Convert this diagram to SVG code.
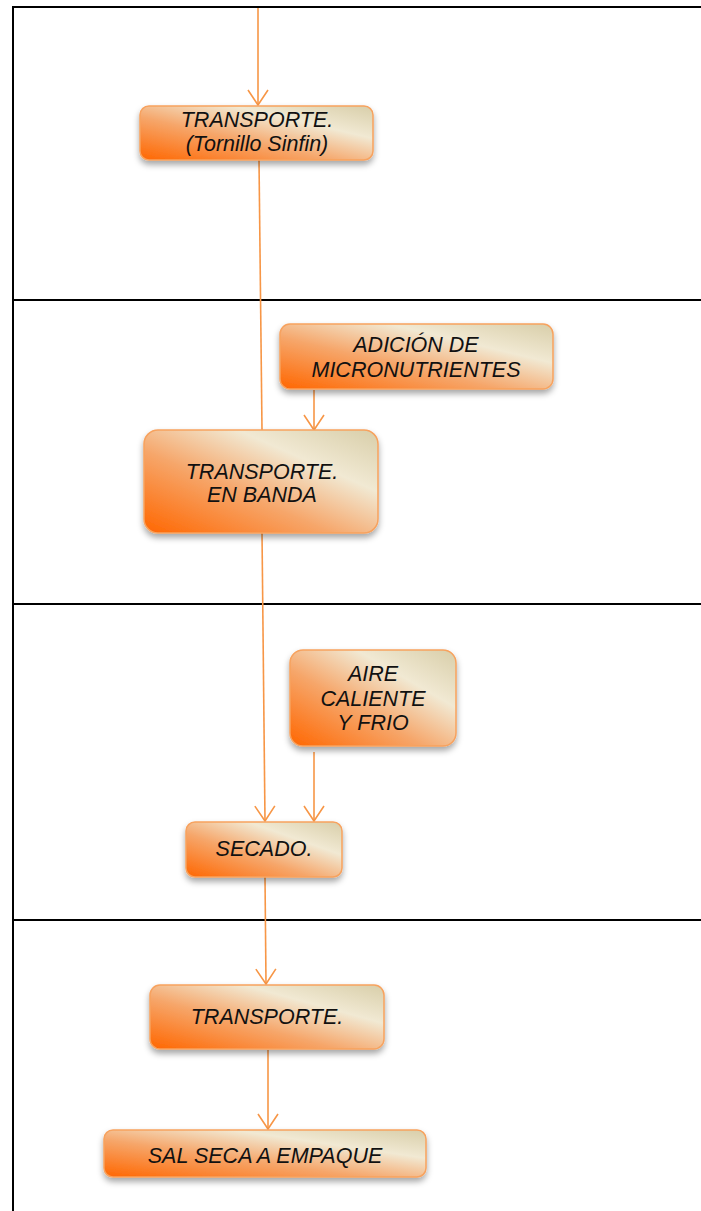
<svg xmlns="http://www.w3.org/2000/svg" width="701" height="1211" viewBox="0 0 701 1211">
  <defs>
    <linearGradient id="boxFill" x1="0" y1="1" x2="1" y2="0">
      <stop offset="0" stop-color="#FF6600"/>
      <stop offset="0.4" stop-color="#F6A66A"/>
      <stop offset="0.7" stop-color="#F1E9D3"/>
      <stop offset="1" stop-color="#D8CEA9"/>
    </linearGradient>
    <filter id="shadow" x="-10%" y="-20%" width="120%" height="150%">
      <feDropShadow dx="0" dy="4" stdDeviation="3" flood-color="#000" flood-opacity="0.35"/>
    </filter>
    <!-- open V arrowhead, drawn pointing along +x -->
    <marker id="vee" markerWidth="18" markerHeight="24" refX="16" refY="12" orient="auto" markerUnits="userSpaceOnUse" viewBox="0 0 18 24">
      <path d="M1,2 L16,12 L1,22" fill="none" stroke="#F79646" stroke-width="1.6"/>
    </marker>
  </defs>
  <style>
    .frame { stroke: #000; stroke-width: 2; fill: none; }
    .box { fill: url(#boxFill); stroke: #F7A25E; stroke-width: 1.5; filter: url(#shadow); }
    .lbl { font-family: "Liberation Sans", Arial, sans-serif; font-style: italic; font-size: 21.5px; fill: #111; text-anchor: middle; }
    .conn { stroke: #F79646; stroke-width: 1.6; fill: none; }
    .arr { marker-end: url(#vee); }
  </style>

  <rect width="701" height="1211" fill="#fff"/>

  <!-- lane frame -->
  <g id="frame">
    <path class="frame" d="M13,1211 V7 H701"/>
    <line class="frame" x1="13" y1="300" x2="701" y2="300"/>
    <line class="frame" x1="13" y1="604" x2="701" y2="604"/>
    <line class="frame" x1="13" y1="920" x2="701" y2="920"/>
  </g>

  <!-- connectors -->
  <g id="connectors">
    <path class="conn arr" d="M258,8 L258,105"/>
    <path class="conn" d="M259,160 L262,430"/>
    <path class="conn arr" d="M314,390 L314,430"/>
    <path class="conn arr" d="M262,533 L265,821"/>
    <path class="conn arr" d="M314,752 L314,821"/>
    <path class="conn arr" d="M265,877 L266,984"/>
    <path class="conn arr" d="M268,1050 L268,1129"/>
  </g>

  <g id="n-tornillo">
    <rect class="box" x="140" y="106" width="233" height="54" rx="9"/>
    <text class="lbl" x="257" y="127">TRANSPORTE.</text>
    <text class="lbl" x="257" y="151">(Tornillo Sinfin)</text>
  </g>

  <g id="n-adicion">
    <rect class="box" x="280" y="324" width="273" height="65" rx="10"/>
    <text class="lbl" x="416" y="352">ADICIÓN DE</text>
    <text class="lbl" x="416" y="377">MICRONUTRIENTES</text>
  </g>

  <g id="n-banda">
    <rect class="box" x="144" y="430" width="234" height="103" rx="14"/>
    <text class="lbl" x="262" y="479">TRANSPORTE.</text>
    <text class="lbl" x="262" y="502">EN BANDA</text>
  </g>

  <g id="n-aire">
    <rect class="box" x="290" y="650" width="166" height="96" rx="13"/>
    <text class="lbl" x="373" y="681">AIRE</text>
    <text class="lbl" x="373" y="706">CALIENTE</text>
    <text class="lbl" x="373" y="730">Y FRIO</text>
  </g>

  <g id="n-secado">
    <rect class="box" x="186" y="822" width="156" height="55" rx="9"/>
    <text class="lbl" x="264" y="856">SECADO.</text>
  </g>

  <g id="n-transporte">
    <rect class="box" x="150" y="985" width="234" height="64" rx="10"/>
    <text class="lbl" x="267" y="1024">TRANSPORTE.</text>
  </g>

  <g id="n-empaque">
    <rect class="box" x="104" y="1130" width="322" height="47" rx="9"/>
    <text class="lbl" x="265" y="1163">SAL SECA A EMPAQUE</text>
  </g>
</svg>
